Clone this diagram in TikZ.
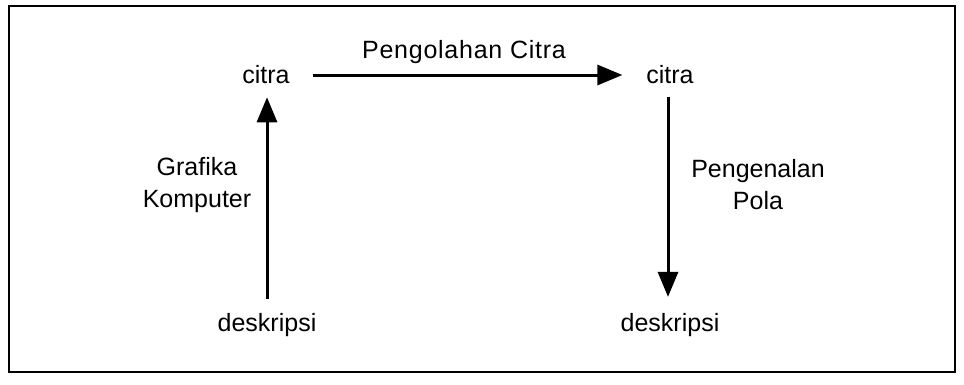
\documentclass[tikz,border=0pt]{standalone}
\usepackage{fontspec}
\setmainfont{Liberation Sans}
\newfontfamily\widefont{Liberation Sans}[LetterSpace=3]
\usetikzlibrary{arrows.meta}
\begin{document}
\begin{tikzpicture}[x=1pt,y=-1pt,
  lbl/.style={inner sep=0pt,outer sep=0pt,font=\fontsize{25}{32}\selectfont},
  conn/.style={line width=3pt,-{Triangle[length=25pt,width=20pt]}},
  frame/.style={line width=2pt}]
\useasboundingbox (0,0) rectangle (964,384);
\draw[frame] (9,6) rectangle (955,372);
\node[lbl,anchor=base] (citraL) at (266,83) {citra};
\node[lbl,anchor=base] (citraR) at (670,83) {citra};
\node[lbl,anchor=base] (deskL) at (267,331) {deskripsi};
\node[lbl,anchor=base] (deskR) at (670,331) {deskripsi};
\node[lbl,anchor=base] (pc) at (464,58) {\widefont Pengolahan Citra};
\node[lbl,align=center] (gk) at (197,185) {Grafika\\Komputer};
\node[lbl,align=center] (pp) at (758,185) {Pengenalan\\Pola};
\draw[conn,shorten <=23pt,shorten >=24pt] (citraL.east |- 0,75) -- (citraR.west |- 0,75);
\draw[conn,shorten <=14pt,shorten >=14pt] (deskL.north -| 267,0) -- (citraL.south -| 267,0);
\draw[conn,shorten <=14pt,shorten >=16pt] (citraR.south -| 668,0) -- (deskR.north -| 668,0);
\end{tikzpicture}
\end{document}
